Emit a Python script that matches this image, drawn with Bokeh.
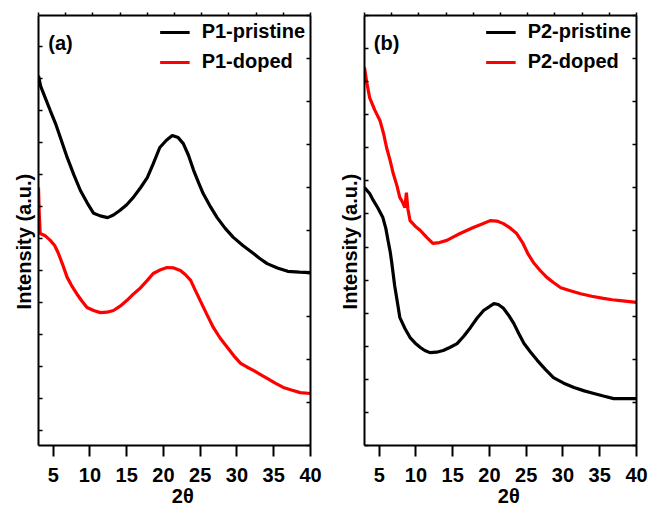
from bokeh.plotting import figure
from bokeh.models import (FixedTicker, LinearAxis, Range1d, Legend, LegendItem, Label,
                          CustomJSTickFormatter)
from bokeh.layouts import row
from bokeh.embed import file_html
from bokeh.resources import INLINE

# ---------------- data ----------------
two_theta_ticks = [5, 10, 15, 20, 25, 30, 35, 40]

p1_pristine_x = [3.0, 3.3, 4.0, 4.6, 5.4, 6.1, 6.9, 7.8, 8.7, 9.6, 10.5, 11.4, 12.4, 13.2, 14.1,
                 15.0, 15.9, 16.9, 17.8, 18.6, 19.5, 20.4, 21.2, 22.0, 22.7, 23.4, 24.1, 24.8,
                 25.4, 26.3, 27.3, 28.4, 29.5, 30.8, 32.2, 33.1, 34.1, 35.5, 36.9, 38.5, 40.0]
p1_pristine_y = [86.0, 83.5, 80.5, 77.9, 74.5, 71.0, 67.0, 63.0, 59.3, 56.5, 54.0, 53.4, 53.0, 53.6, 54.7,
                 56.0, 57.7, 60.0, 62.3, 65.5, 69.3, 71.0, 72.1, 71.6, 70.2, 67.5, 64.0, 61.0,
                 58.6, 55.8, 53.0, 50.5, 48.4, 46.5, 44.7, 43.5, 42.3, 41.3, 40.5, 40.3, 40.2]

p1_doped_x = [3.0, 3.1, 3.23, 3.9, 4.6, 5.2, 5.7, 6.3, 6.9, 7.5, 8.2, 8.9, 9.6, 10.5, 11.4,
              12.3, 13.2, 14.1, 15.0, 15.9, 16.9, 17.8, 18.6, 19.5, 20.5, 21.4, 22.3, 23.0,
              23.7, 24.3, 25.0, 25.9, 26.8, 27.7, 28.7, 29.6, 30.5, 31.4, 32.3, 33.2, 34.1,
              35.2, 36.3, 37.4, 38.6, 40.0]
p1_doped_y = [60.0, 54.0, 49.3, 48.8, 47.7, 46.5, 44.7, 42.0, 39.1, 37.2, 35.3, 33.6, 32.1, 31.4, 30.9,
              31.0, 31.4, 32.4, 33.7, 35.2, 36.7, 38.4, 40.0, 40.8, 41.4, 41.3, 40.7, 39.7,
              38.4, 36.2, 33.7, 30.5, 27.4, 25.0, 22.8, 20.8, 19.1, 18.2, 17.4, 16.5, 15.6,
              14.5, 13.5, 12.9, 12.3, 12.1]

p2_pristine_x = [3.0, 3.4, 3.7, 4.2, 4.8, 5.5, 5.9, 6.2, 6.5, 6.7, 7.1, 7.5, 7.8, 8.5, 9.2,
                 9.9, 10.6, 11.2, 11.9, 12.8, 13.7, 14.6, 15.6, 16.5, 17.4, 18.3, 19.2, 20.6,
                 21.2, 21.9, 22.6, 23.3, 24.0, 24.7, 25.6, 26.5, 27.6, 28.7, 30.1, 31.5, 32.9,
                 34.2, 35.5, 36.9, 38.4, 40.0]
p2_pristine_y = [60.0, 59.2, 58.6, 57.0, 55.3, 53.0, 50.5, 47.7, 45.0, 42.6, 37.2, 33.0, 29.8, 27.2, 25.1,
                 23.8, 22.8, 22.1, 21.6, 21.7, 22.1, 22.8, 23.7, 25.4, 27.4, 29.6, 31.4, 33.0,
                 32.8, 31.9, 30.3, 28.4, 26.0, 23.7, 21.7, 19.8, 17.7, 15.8, 14.5, 13.5, 12.7,
                 12.1, 11.5, 10.9, 10.9, 10.9]

p2_doped_x = [3.0, 3.3, 3.7, 4.4, 5.1, 5.6, 6.0, 6.5, 6.9, 7.4, 7.8, 8.2, 8.5, 8.7, 8.9,
              9.2, 9.9, 10.6, 11.4, 12.3, 13.2, 14.2, 15.1, 16.0, 16.9, 17.8, 19.0, 20.1,
              21.0, 21.9, 22.8, 23.7, 24.5, 25.2, 26.0, 26.9, 27.8, 28.7, 29.7, 31.0, 32.4,
              33.9, 35.5, 36.7, 37.8, 40.0]
p2_doped_y = [87.9, 84.5, 80.9, 78.0, 75.6, 72.5, 69.3, 66.2, 63.3, 60.5, 57.7, 56.5, 55.3, 58.8, 55.0,
              52.3, 51.0, 50.0, 48.5, 47.0, 47.2, 47.7, 48.5, 49.3, 50.0, 50.7, 51.5, 52.3,
              52.2, 51.6, 50.6, 49.3, 47.2, 44.7, 42.5, 40.7, 39.1, 37.9, 36.7, 36.0, 35.3,
              34.7, 34.2, 33.9, 33.7, 33.3]

FONT = "Liberation Sans"
NBSP = "\u00a0"


def blank_axis(ticks, tick_in, tick_out):
    ax = LinearAxis(ticker=FixedTicker(ticks=ticks, minor_ticks=[]),
                    formatter=CustomJSTickFormatter(code="return ''"))
    ax.axis_line_width = 2
    ax.axis_line_color = "black"
    ax.major_tick_line_width = 1.5
    ax.major_tick_line_color = "black"
    ax.major_tick_in = tick_in
    ax.major_tick_out = tick_out
    ax.minor_tick_line_color = None
    ax.major_label_standoff = 0
    return ax


def make_panel(tag, xs, ys, names, colors, width, border_left, border_right, left_ticks):
    p = figure(width=width, height=513, x_range=Range1d(3, 40), y_range=Range1d(0, 100),
               output_backend="svg", toolbar_location=None,
               x_axis_location=None, y_axis_location=None,
               min_border_left=border_left, min_border_right=border_right,
               min_border_top=15, min_border_bottom=68)
    p.grid.visible = False
    p.outline_line_color = None
    p.background_fill_color = "white"
    p.border_fill_color = "white"

    # bottom axis
    xb = LinearAxis(ticker=FixedTicker(ticks=two_theta_ticks, minor_ticks=[]),
                    axis_label=NBSP * 3 + "2\u03b8")
    xb.axis_line_width = 2
    xb.axis_line_color = "black"
    xb.major_tick_line_width = 2
    xb.major_tick_line_color = "black"
    xb.major_tick_out = 11
    xb.major_tick_in = 0
    xb.minor_tick_line_color = None
    xb.major_label_text_font = FONT
    xb.major_label_text_font_style = "bold"
    xb.major_label_text_font_size = "20px"
    xb.major_label_text_color = "black"
    xb.major_label_standoff = 11
    xb.axis_label_text_font = FONT
    xb.axis_label_text_font_style = "bold"
    xb.axis_label_text_font_size = "20px"
    xb.axis_label_text_color = "black"
    xb.axis_label_standoff = 0
    p.add_layout(xb, "below")

    # top axis (ticks only)
    top_ticks = [3 + 3.7 * k for k in range(11)]
    p.add_layout(blank_axis(top_ticks, 0, 3), "above")

    # left axis (inward ticks, label only)
    yl = blank_axis(left_ticks, 4, 0)
    yl.axis_label = "Intensity (a.u.)" + NBSP * 4
    yl.axis_label_text_font = FONT
    yl.axis_label_text_font_style = "bold"
    yl.axis_label_text_font_size = "20px"
    yl.axis_label_text_color = "black"
    yl.axis_label_standoff = 4
    p.add_layout(yl, "left")

    # right axis (inward ticks)
    right_ticks = [10 * k for k in range(11)]
    p.add_layout(blank_axis(right_ticks, 4, 0), "right")

    items = []
    for x, y, name, c in zip(xs, ys, names, colors):
        r = p.line(x, y, line_color=c, line_width=3.2)
        items.append(LegendItem(label=name, renderers=[r]))

    leg = Legend(items=items, location="top_right")
    leg.label_text_font = FONT
    leg.label_text_font_style = "bold"
    leg.label_text_font_size = "20px"
    leg.label_text_color = "black"
    leg.glyph_width = 30
    leg.glyph_height = 22
    leg.label_height = 22
    leg.label_standoff = 12
    leg.spacing = 7
    leg.padding = 10
    leg.margin = 5
    leg.border_line_color = None
    leg.background_fill_alpha = 0
    p.add_layout(leg)

    p.add_layout(Label(x=6.0, y=93.6, text=tag, text_font=FONT, text_font_style="bold",
                       text_font_size="20px", text_align="center", text_baseline="middle",
                       text_color="black"))
    return p


left_ticks_a = [3.6 + 7.44 * k for k in range(13)]
left_ticks_b = [100.0 / 13 * k for k in range(14)]

pa = make_panel("(a)", [p1_pristine_x, p1_doped_x], [p1_pristine_y, p1_doped_y],
                ["P1-pristine", "P1-doped"], ["black", "red"], 324, 38, 14, left_ticks_a)
pb = make_panel("(b)", [p2_pristine_x, p2_doped_x], [p2_pristine_y, p2_doped_y],
                ["P2-pristine", "P2-doped"], ["black", "red"], 325, 40, 13, left_ticks_b)

layout = row(pa, pb)
open("out.html", "w").write(file_html(layout, INLINE))
